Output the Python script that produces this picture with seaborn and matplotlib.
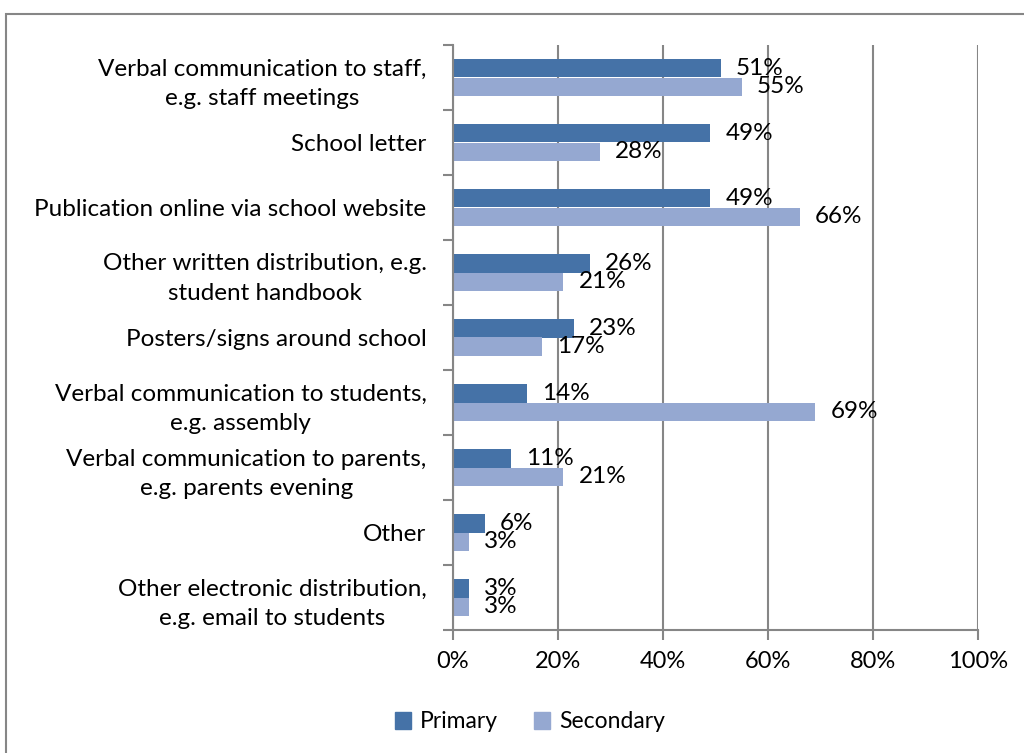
import pandas as pd
import matplotlib.pyplot as plt
import seaborn as sns
from matplotlib.patches import Rectangle

categories = [
    'Verbal communication to staff,\ne.g. staff meetings',
    'School letter',
    'Publication online via school website',
    'Other written distribution, e.g.\nstudent handbook',
    'Posters/signs around school',
    'Verbal communication to students,\ne.g. assembly',
    'Verbal communication to parents,\ne.g. parents evening',
    'Other',
    'Other electronic distribution,\ne.g. email to students',
]
primary = [51, 49, 49, 26, 23, 14, 11, 6, 3]
secondary = [55, 28, 66, 21, 17, 69, 21, 3, 3]
groups = ['Primary', 'Secondary']
colors = ['#4572A7', '#95A8D1']

data = pd.DataFrame({
    'Category': categories * 2,
    'Value': primary + secondary,
    'Group': ['Primary'] * len(categories) + ['Secondary'] * len(categories),
})

sns.set_style('white')
plt.rcParams['font.family'] = ['Lato', 'DejaVu Sans']
plt.rcParams['text.color'] = 'black'
plt.rcParams['xtick.color'] = 'black'
plt.rcParams['ytick.color'] = 'black'

fig = plt.figure(figsize=(10.24, 7.53), dpi=100)
ax = fig.add_axes([453 / 1024, 1 - 630 / 753, 525 / 1024, 585 / 753])

sns.barplot(data=data, x='Value', y='Category', hue='Group', orient='h',
            palette=colors, width=0.56, ax=ax, legend=False, saturation=1,
            linewidth=0)

for cont in ax.containers:
    ax.bar_label(cont, fmt='%d%%', padding=11, fontsize=17.5, color='black')

ax.set_xlim(0, 100)
ax.set_ylim(len(categories) - 0.5, -0.5)
ax.set_xticks(range(0, 101, 20))
ax.set_xticklabels([f'{v}%' for v in range(0, 101, 20)], fontsize=17)
ax.set_yticks(range(len(categories)))
ax.set_yticklabels(categories, fontsize=17.5, linespacing=1.5, ma='center')
ax.set_yticks([i - 0.5 for i in range(len(categories) + 1)], minor=True)
ax.tick_params(axis='y', which='major', length=0, pad=19)
ax.tick_params(axis='y', which='minor', length=7, color='#868686', width=1.5, left=True)
ax.tick_params(axis='x', length=7, color='#868686', labelcolor='black', width=1.5,
               bottom=True, pad=8)
ax.xaxis.grid(True, color='#868686', linewidth=1.5)
ax.set_axisbelow(True)
ax.set_xlabel('')
ax.set_ylabel('')
for side in ['top', 'right']:
    ax.spines[side].set_visible(False)
for side in ['left', 'bottom']:
    ax.spines[side].set_color('#868686')
    ax.spines[side].set_linewidth(1.5)

handles = [Rectangle((0, 0), 1, 1, color=c) for c in colors]
fig.legend(handles, groups, loc='center', bbox_to_anchor=(530 / 1024, 1 - 722 / 753),
           ncol=2, frameon=False, fontsize=16.5, handlelength=0.7, handleheight=0.7,
           handletextpad=0.4, columnspacing=1.6)

fig.patches.append(Rectangle((6 / 1024, -0.01), 1.0, 1 - 14 / 753 + 0.01,
                             transform=fig.transFigure, fill=False,
                             edgecolor='#868686', linewidth=1.5))

plt.savefig('out.png', dpi=100)
